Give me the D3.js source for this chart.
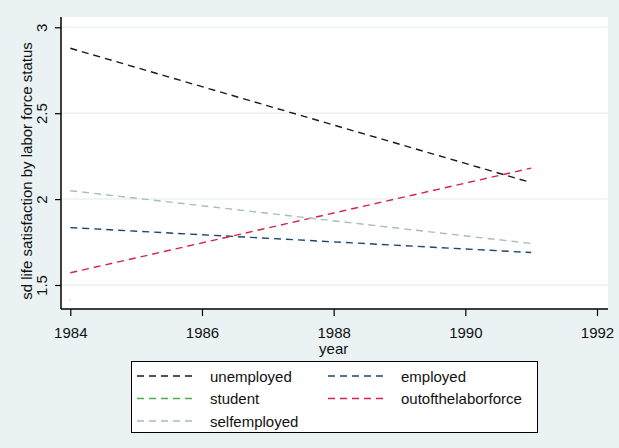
<!DOCTYPE html>
<html>
<head>
<meta charset="utf-8">
<script src="https://cdn.jsdelivr.net/npm/d3@7/dist/d3.min.js"></script>
<style>
  html, body { margin: 0; padding: 0; background: #eaf2f3; }
  svg { display: block; font-family: "Liberation Sans", Arial, sans-serif; }
</style>
</head>
<body>
<script>
// Fitted trend of the standard deviation of life satisfaction, by labour force status
const years = [1984, 1991];
const unemployed = [2.878, 2.096];
const employed = [1.834, 1.689];
const student = [1.414];
const outofthelaborforce = [1.571, 2.180];
const selfemployed = [2.049, 1.742];

const seriesNames = ["unemployed", "employed", "student", "outofthelaborforce", "selfemployed"];
const seriesValues = [unemployed, employed, student, outofthelaborforce, selfemployed];
const seriesColors = ["#1a1a1a", "#1a476f", "#4cae4c", "#d2234a", "#a9bdb8"];

const xTicks = [1984, 1986, 1988, 1990, 1992];
const yTicks = [1.5, 2, 2.5, 3];

const W = 619, H = 448;
const svg = d3.select("body").append("svg").attr("width", W).attr("height", H);

svg.append("rect").attr("width", W).attr("height", H).attr("fill", "#eaf2f3");

const plot = { left: 61, right: 608, top: 17, bottom: 309 };
svg.append("rect")
  .attr("x", plot.left).attr("y", plot.top)
  .attr("width", plot.right - plot.left).attr("height", plot.bottom - plot.top)
  .attr("fill", "#ffffff");

const x = d3.scaleLinear().domain([1984, 1992]).range([70.3, 597]);
const y = d3.scaleLinear().domain([1.5, 3]).range([285, 27.3]);

// horizontal grid
svg.append("g").selectAll("line").data(yTicks).join("line")
  .attr("x1", plot.left).attr("x2", plot.right)
  .attr("y1", d => y(d)).attr("y2", d => y(d))
  .attr("stroke", "#eaf2f3").attr("stroke-width", 1.5);

// series lines
const line = d3.line().x(d => x(d[0])).y(d => y(d[1]));
seriesValues.forEach((vals, i) => {
  const pts = vals.map((v, j) => [years[j], v]);
  if (pts.length > 1) {
    svg.append("path").datum(pts)
      .attr("d", line)
      .attr("fill", "none")
      .attr("stroke", seriesColors[i])
      .attr("stroke-width", 1.4)
      .attr("stroke-dasharray", "7,5");
  } else {
    svg.append("circle")
      .attr("cx", x(pts[0][0])).attr("cy", y(pts[0][1]))
      .attr("r", 0.8).attr("fill", seriesColors[i]).attr("opacity", 0.4);
  }
});

// axes
const xAxis = d3.axisBottom(x).tickValues(xTicks).tickFormat(d3.format("d")).tickSize(7).tickSizeOuter(0);
const gx = svg.append("g").attr("transform", `translate(0,${plot.bottom})`).call(xAxis);
gx.select(".domain").remove();
gx.selectAll(".tick line").attr("stroke", "#000").attr("stroke-width", 1.2);
gx.selectAll(".tick text").attr("font-size", 15).attr("fill", "#111")
  .attr("font-family", "Liberation Sans, Arial, sans-serif").attr("dy", null).attr("y", 29);
svg.append("line").attr("x1", plot.left).attr("x2", plot.right)
  .attr("y1", plot.bottom).attr("y2", plot.bottom).attr("stroke", "#000").attr("stroke-width", 1.5);

const yAxis = d3.axisLeft(y).tickValues(yTicks).tickFormat(d => String(d)).tickSize(6).tickSizeOuter(0);
const gy = svg.append("g").attr("transform", `translate(${plot.left},0)`).call(yAxis);
gy.select(".domain").remove();
gy.selectAll(".tick line").attr("stroke", "#000").attr("stroke-width", 1.2);
gy.selectAll(".tick text").attr("font-size", 15).attr("fill", "#111")
  .attr("font-family", "Liberation Sans, Arial, sans-serif")
  .attr("x", null).attr("dy", null)
  .attr("text-anchor", "middle")
  .attr("transform", "translate(-14,0) rotate(-90)");
svg.append("line").attr("x1", plot.left).attr("x2", plot.left)
  .attr("y1", plot.top).attr("y2", plot.bottom).attr("stroke", "#000").attr("stroke-width", 1.5);

// axis titles
svg.append("text").attr("x", x(1988)).attr("y", 354)
  .attr("text-anchor", "middle").attr("font-size", 15).attr("fill", "#111").text("year");
svg.append("text").attr("transform", `translate(32,${(plot.top + plot.bottom) / 2 + 8}) rotate(-90)`)
  .attr("text-anchor", "middle").attr("font-size", 15).attr("fill", "#111")
  .text("sd life satisfaction by labor force status");

// legend
const lg = svg.append("g");
lg.append("rect").attr("x", 131.5).attr("y", 361.5).attr("width", 406).attr("height", 71)
  .attr("fill", "#ffffff").attr("stroke", "#000").attr("stroke-width", 1);
const legendPos = [
  [137, 376], [328, 376],
  [137, 398.5], [328, 398.5],
  [137, 421]
];
seriesNames.forEach((name, i) => {
  const [lx, ly] = legendPos[i];
  lg.append("line").attr("x1", lx).attr("x2", lx + 60).attr("y1", ly).attr("y2", ly)
    .attr("stroke", seriesColors[i]).attr("stroke-width", 1.4).attr("stroke-dasharray", "7,5");
  lg.append("text").attr("x", lx + 73).attr("y", ly + 5.5)
    .attr("font-size", 15).attr("fill", "#111").text(name);
});
</script>
</body>
</html>
